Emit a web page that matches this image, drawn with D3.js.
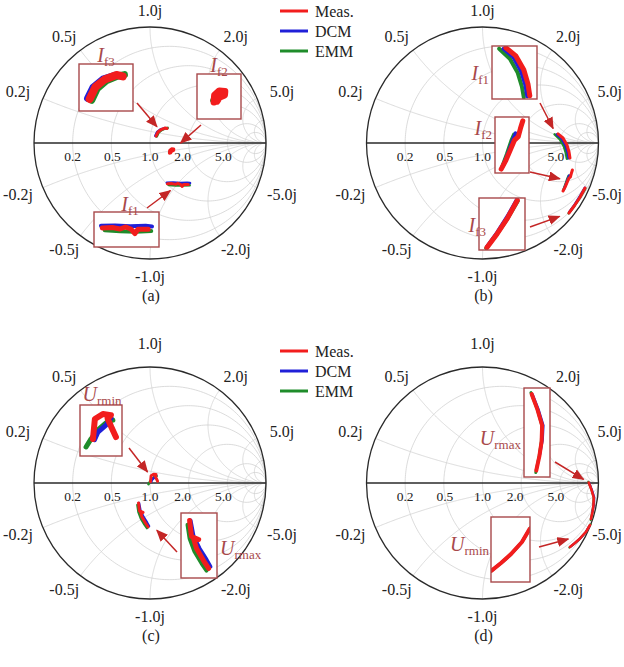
<!DOCTYPE html>
<html>
<head>
<meta charset="utf-8">
<script src="https://cdn.jsdelivr.net/npm/d3@7/dist/d3.min.js"></script>
<style>
  body { margin: 0; background: #fff; }
  svg { display: block; }
</style>
</head>
<body>
<svg id="fig" width="624" height="667"></svg>
<script>
// ---- Series (legend) ----
const seriesNames = ["Meas.", "DCM", "EMM"];

// ---- Smith chart tick values ----
const resistanceTicks = [0.2, 0.5, 1, 2, 5];
const resistanceLabels = ["0.2", "0.5", "1.0", "2.0", "5.0"];
const reactanceTicks = [1, 0.5, 2, 0.2, 5, -0.2, -5, -0.5, -2, -1];
const reactanceLabels = ["1.0j", "0.5j", "2.0j", "0.2j", "5.0j", "-0.2j", "-5.0j", "-0.5j", "-2.0j", "-1.0j"];
const gridResistance = [0.2, 0.5, 1, 2, 5, 10];
const gridReactance = [0.2, 0.5, 1, 2, 5, 10, -0.2, -0.5, -1, -2, -5, -10];
const panelTags = ["(a)", "(b)", "(c)", "(d)"];

// ---- Reflection coefficients [Re Γ, Im Γ] ----
// (a) fault currents
const aIf1Meas = [[0.150,-0.352],[0.190,-0.350],[0.220,-0.356],[0.240,-0.348],[0.262,-0.356],[0.278,-0.374],[0.290,-0.357],[0.330,-0.357]];
const aIf1Dcm  = [[0.145,-0.343],[0.200,-0.342],[0.260,-0.345],[0.320,-0.343],[0.345,-0.346]];
const aIf1Emm  = [[0.160,-0.361],[0.220,-0.365],[0.280,-0.367],[0.342,-0.364]];
const aIf2Meas = [[0.168,-0.088],[0.170,-0.064],[0.186,-0.050],[0.205,-0.052],[0.204,-0.064],[0.186,-0.072],[0.178,-0.085]];
const aIf2Dcm  = [[0.172,-0.076],[0.178,-0.060],[0.192,-0.055]];
const aIf2Emm  = [[0.165,-0.082],[0.171,-0.070]];
const aIf3Meas = [[0.052,0.060],[0.069,0.095],[0.095,0.116],[0.129,0.129],[0.147,0.125]];
const aIf3Dcm  = [[0.046,0.062],[0.062,0.094],[0.090,0.117],[0.125,0.128]];
const aIf3Emm  = [[0.058,0.056],[0.074,0.090],[0.100,0.112],[0.133,0.126],[0.152,0.130]];
// (b) fault currents
const bIf1Meas = [[0.651,0.078],[0.694,0.043],[0.728,-0.017],[0.746,-0.078],[0.754,-0.129]];
const bIf1Dcm  = [[0.641,0.074],[0.683,0.038],[0.716,-0.022],[0.735,-0.083],[0.743,-0.131]];
const bIf1Emm  = [[0.622,0.074],[0.668,0.031],[0.702,-0.030],[0.720,-0.090],[0.728,-0.135]];
const bIf2Meas = [[0.694,-0.414],[0.712,-0.380],[0.730,-0.338],[0.744,-0.305],[0.758,-0.292],[0.766,-0.262],[0.775,-0.233]];
const bIf2Dcm  = [[0.703,-0.397],[0.722,-0.350],[0.738,-0.305],[0.748,-0.280]];
const bIf2Emm  = [[0.698,-0.405],[0.716,-0.356],[0.732,-0.308],[0.742,-0.284]];
const bIf3Meas = [[0.746,-0.603],[0.792,-0.541],[0.840,-0.468],[0.884,-0.388]];
const bIf3Dcm  = [[0.748,-0.598],[0.792,-0.536],[0.838,-0.464],[0.882,-0.386]];
const bIf3Emm  = [[0.743,-0.606],[0.790,-0.544],[0.840,-0.470],[0.886,-0.392]];
// (c) voltages
const cUminMeas = [[0.005,0.011],[0.010,0.063],[0.031,0.076],[0.052,0.073],[0.043,0.065],[0.053,0.042],[0.065,0.016]];
const cUminDcm  = [[0.009,0.009],[0.018,0.029],[0.039,0.047],[0.052,0.065]];
const cUminEmm  = [[-0.013,-0.010],[0.000,0.011],[0.017,0.034],[0.043,0.056],[0.057,0.060]];
const cUmaxMeas = [[-0.099,-0.172],[-0.091,-0.241],[-0.060,-0.254],[-0.082,-0.250],[-0.069,-0.293],[-0.039,-0.345],[-0.017,-0.379]];
const cUmaxDcm  = [[-0.095,-0.172],[-0.082,-0.241],[-0.056,-0.293],[-0.026,-0.341],[-0.009,-0.371]];
const cUmaxEmm  = [[-0.108,-0.190],[-0.099,-0.250],[-0.078,-0.306],[-0.047,-0.358],[-0.026,-0.388]];
// (d) voltages
const dUmaxMeas = [[0.916,0.004],[0.940,-0.060],[0.959,-0.125],[0.957,-0.190],[0.948,-0.250],[0.935,-0.310]];
const dUmaxDcm  = [[0.919,0.002],[0.944,-0.062],[0.963,-0.125],[0.960,-0.185],[0.949,-0.245]];
const dUmaxEmm  = [[0.913,0.010],[0.939,-0.058],[0.958,-0.125],[0.956,-0.190],[0.947,-0.250],[0.933,-0.318]];
const dUminMeas = [[0.927,-0.362],[0.892,-0.422],[0.841,-0.478],[0.797,-0.517],[0.754,-0.552]];
const dUminDcm  = [[0.925,-0.366],[0.890,-0.424],[0.840,-0.480],[0.796,-0.518],[0.756,-0.550]];
const dUminEmm  = [[0.931,-0.356],[0.892,-0.423],[0.841,-0.479],[0.797,-0.518],[0.749,-0.556]];

// ---- Styles ----
const colors = ["#f21d1d", "#2020d8", "#1f8c2a"];
const serif = '"Liberation Serif","Times New Roman",Times,serif';
const boxColor = "#a8494b";
const arrowColor = "#c42626";
const R = 116;
const W = 624;
const resistanceLabelShift = [0, 1, 0, -6, -4];

const svg = d3.select("#fig");

svg.append("defs").append("marker")
  .attr("id", "head")
  .attr("markerUnits", "userSpaceOnUse")
  .attr("markerWidth", 12).attr("markerHeight", 10)
  .attr("refX", 11).attr("refY", 5)
  .attr("orient", "auto")
  .append("path")
  .attr("d", "M0,0 L12,5 L0,10 Z")
  .attr("fill", arrowColor);

// z = r + jx  ->  Γ = (z-1)/(z+1)
function gamma(r, x) {
  const den = (r + 1) * (r + 1) + x * x;
  return [(r * r - 1 + x * x) / den, (2 * x) / den];
}

const panels = [
  { cx: 150,   cy: 143, topNudge: 0,  legend: true,
    clusters: [
      { s: [aIf3Meas, aIf3Dcm, aIf3Emm], box: [79, 64, 54, 47], k: 3.0, lw: 8,
        label: ["I", "f3"], lx: 106, ly: 62, anchor: "middle", from: [137, 103], gap: 7 },
      { s: [aIf2Meas, aIf2Dcm, aIf2Emm], box: [197, 74, 44, 45], k: 2.5, lw: 7,
        label: ["I", "f2"], lx: 219, ly: 72, anchor: "middle", from: [201, 125], gap: 12 },
      { s: [aIf1Meas, aIf1Dcm, aIf1Emm], box: [94, 212, 65, 35], k: 2.2, lw: 5,
        label: ["I", "f1"], lx: 130, ly: 211, anchor: "middle", from: [147, 208], gap: 10 }
    ] },
  { cx: 482.5, cy: 143, topNudge: 0, legend: false,
    clusters: [
      { s: [bIf1Meas, bIf1Dcm, bIf1Emm], box: [492, 46, 45, 53], k: 2.0, lw: 5,
        label: ["I", "f1"], lx: 489, ly: 80, anchor: "end", from: [540, 103], gap: 20 },
      { s: [bIf2Meas, bIf2Dcm, bIf2Emm], box: [495, 117, 34, 56], k: 2.3, lw: 5,
        label: ["I", "f2"], lx: 492, ly: 135, anchor: "end", from: [530, 172], gap: 8 },
      { s: [bIf3Meas, bIf3Dcm, bIf3Emm], box: [479, 198, 46, 52], k: 1.9, lw: 5,
        label: ["I", "f3"], lx: 486, ly: 232, anchor: "end", from: [530, 227], gap: 10, at: 0 }
    ] },
  { cx: 150,   cy: 483, topNudge: -7, legend: true,
    clusters: [
      { s: [cUminMeas, cUminDcm, cUminEmm], box: [80, 405, 42, 51], k: 3.3, lw: 6,
        label: ["U", "rmin"], lx: 102, ly: 401, anchor: "middle", from: [129, 448], gap: 9 },
      { s: [cUmaxMeas, cUmaxDcm, cUmaxEmm], box: [181, 513, 36, 65], k: 2.0, lw: 5,
        label: ["U", "rmax"], lx: 220, ly: 555, anchor: "start", from: [177, 552], gap: 20 }
    ] },
  { cx: 482.5, cy: 483, topNudge: -7, legend: false,
    clusters: [
      { s: [dUmaxMeas, dUmaxDcm, dUmaxEmm], box: [524, 388, 26, 89], k: 2.1, lw: 4,
        label: ["U", "rmax"], lx: 521, ly: 445, anchor: "end", from: [555, 462], gap: 6, at: 0 },
      { s: [dUminMeas, dUminDcm, dUminEmm], box: [491, 517, 39, 65], k: 1.9, lw: 4,
        label: ["U", "rmin"], lx: 489, ly: 551, anchor: "end", from: [539, 547], gap: 12 }
    ] }
];

panels.forEach((p, pi) => {
  const g = svg.append("g");
  const sx = d3.scaleLinear().domain([-1, 1]).range([p.cx - R, p.cx + R]);
  const sy = d3.scaleLinear().domain([-1, 1]).range([p.cy + R, p.cy - R]);
  const line = d3.line().x(d => sx(d[0])).y(d => sy(d[1]));
  const mainLw = pi === 3 ? 2.2 : 2.6;

  // grid: constant-resistance circles and constant-reactance arcs
  const N = 240;
  gridResistance.forEach(r => {
    const pts = d3.range(N + 1).map(i => {
      const phi = -Math.PI / 2 + Math.PI * i / N;
      return gamma(r, Math.tan(phi));
    });
    g.append("path").attr("d", line(pts)).attr("fill", "none")
      .attr("stroke", "#d2d2d2").attr("stroke-width", 0.8);
  });
  gridReactance.forEach(x => {
    const pts = d3.range(N + 1).map(i => {
      const th = (Math.PI / 2) * i / N;
      return gamma(Math.tan(th), x);
    });
    g.append("path").attr("d", line(pts)).attr("fill", "none")
      .attr("stroke", "#d2d2d2").attr("stroke-width", 0.8);
  });

  // outer circle and real axis
  g.append("circle").attr("cx", sx(0)).attr("cy", sy(0)).attr("r", sx(1) - sx(0))
    .attr("fill", "none").attr("stroke", "#2a2a2a").attr("stroke-width", 1.3);
  g.append("line").attr("x1", sx(-1)).attr("x2", sx(1)).attr("y1", sy(0)).attr("y2", sy(0))
    .attr("stroke", "#2a2a2a").attr("stroke-width", 1.3);

  // resistance labels
  resistanceTicks.forEach((r, i) => {
    g.append("text").attr("x", sx((r - 1) / (r + 1)) + resistanceLabelShift[i]).attr("y", sy(0) + 13)
      .attr("text-anchor", "middle").attr("dominant-baseline", "central")
      .attr("font-family", serif).attr("font-size", 13.5).attr("fill", "#222")
      .text(resistanceLabels[i]);
  });
  // reactance labels around the rim, kept inside the page
  reactanceTicks.forEach((x, i) => {
    const gm = gamma(0, x);
    const px = sx(gm[0] * (1 + 17 / R)) + gm[0] * 10;
    let py = sy(gm[1] * (1 + 17 / R));
    if (x === 1) py += p.topNudge;
    const t = g.append("text").attr("x", px).attr("y", py)
      .attr("text-anchor", "middle").attr("dominant-baseline", "central")
      .attr("font-family", serif).attr("font-size", 16).attr("fill", "#222")
      .text(reactanceLabels[i]);
    const w = t.node().getComputedTextLength();
    if (px + w / 2 > W - 2) t.attr("x", W - 2 - w / 2);
  });

  // panel tag
  g.append("text").attr("x", sx(0) + 1).attr("y", sy(0) + 152)
    .attr("text-anchor", "middle").attr("dominant-baseline", "central")
    .attr("font-family", serif).attr("font-size", 16).attr("fill", "#222")
    .text(panelTags[pi]);

  // data on the chart
  p.clusters.forEach(c => {
    [2, 1, 0].forEach(si => {
      g.append("path").attr("d", line(c.s[si])).attr("fill", "none")
        .attr("stroke", colors[si]).attr("stroke-width", si === 0 ? mainLw + 0.4 : mainLw)
        .attr("stroke-linecap", "round").attr("stroke-linejoin", "round");
    });
  });

  // zoomed insets, labels and pointers
  p.clusters.forEach((c, ci) => {
    const all = c.s.flat();
    const gx = d3.extent(all, d => d[0]), gy = d3.extent(all, d => d[1]);
    const mx = (gx[0] + gx[1]) / 2, my = (gy[0] + gy[1]) / 2;
    const [bx, by, bw, bh] = c.box;
    const hw = bw / (2 * c.k * R), hh = bh / (2 * c.k * R);
    const ix = d3.scaleLinear().domain([mx - hw, mx + hw]).range([bx, bx + bw]);
    const iy = d3.scaleLinear().domain([my - hh, my + hh]).range([by + bh, by]);
    const iline = d3.line().x(d => ix(d[0])).y(d => iy(d[1]));

    const cid = `clip${pi}_${ci}`;
    svg.select("defs").append("clipPath").attr("id", cid)
      .append("rect").attr("x", bx).attr("y", by).attr("width", bw).attr("height", bh);
    g.append("rect").attr("x", bx).attr("y", by).attr("width", bw).attr("height", bh)
      .attr("fill", "#fff");
    const ig = g.append("g").attr("clip-path", `url(#${cid})`);
    [2, 1, 0].forEach(si => {
      ig.append("path").attr("d", iline(c.s[si])).attr("fill", "none")
        .attr("stroke", colors[si]).attr("stroke-width", si === 0 ? c.lw : c.lw - 1)
        .attr("stroke-linecap", "round").attr("stroke-linejoin", "round");
    });
    g.append("rect").attr("x", bx).attr("y", by).attr("width", bw).attr("height", bh)
      .attr("fill", "none").attr("stroke", boxColor).attr("stroke-width", 1.4);

    const t = g.append("text").attr("x", c.lx).attr("y", c.ly)
      .attr("text-anchor", c.anchor).attr("font-family", serif).attr("fill", boxColor);
    t.append("tspan").attr("font-style", "italic").attr("font-size", 20).text(c.label[0]);
    t.append("tspan").attr("font-size", 13).attr("dy", 4).text(c.label[1]);

    // pointer from the inset towards the cluster
    const target = c.at !== undefined
      ? [sx(c.s[0][c.at][0]), sy(c.s[0][c.at][1])]
      : [sx(mx), sy(my)];
    const dx = target[0] - c.from[0], dy = target[1] - c.from[1];
    const len = Math.hypot(dx, dy);
    g.append("line")
      .attr("x1", c.from[0]).attr("y1", c.from[1])
      .attr("x2", target[0] - dx / len * c.gap).attr("y2", target[1] - dy / len * c.gap)
      .attr("stroke", arrowColor).attr("stroke-width", 1.5)
      .attr("marker-end", "url(#head)");
  });

  // legend
  if (p.legend) {
    const ly0 = p.cy - 132;
    seriesNames.forEach((name, i) => {
      const y = ly0 + i * 20;
      g.append("line").attr("x1", 280).attr("x2", 308).attr("y1", y).attr("y2", y)
        .attr("stroke", colors[i]).attr("stroke-width", 3);
      g.append("text").attr("x", 315).attr("y", y).attr("dominant-baseline", "central")
        .attr("font-family", serif).attr("font-size", 16).attr("fill", "#222").text(name);
    });
  }
});
</script>
</body>
</html>
